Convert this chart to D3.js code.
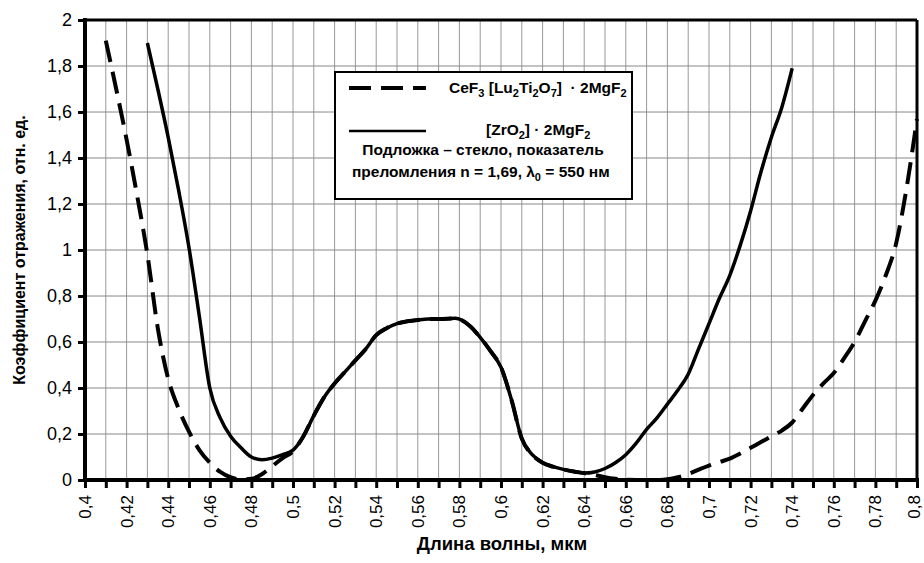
<!DOCTYPE html>
<html>
<head>
<meta charset="utf-8">
<script src="https://cdn.jsdelivr.net/npm/d3@7"></script>
<style>
  body { margin: 0; background: #fff; }
  text { font-family: Arial, "Liberation Sans", sans-serif; }
</style>
</head>
<body>
<div class="chart"></div>
<script>
var width = 924
var height = 563

// [ZrO2] . 2MgF2 (solid)
var waveZr = [0.43, 0.435, 0.44, 0.445, 0.45, 0.455, 0.46, 0.465, 0.47, 0.475, 0.48, 0.485, 0.49, 0.495,
    0.5, 0.505, 0.51, 0.515, 0.52, 0.525, 0.53, 0.535, 0.54, 0.545, 0.55, 0.555, 0.56, 0.565, 0.57, 0.578,
    0.585, 0.59, 0.595, 0.6, 0.605, 0.61, 0.615, 0.62, 0.625, 0.63, 0.635, 0.64, 0.645, 0.65, 0.655, 0.66,
    0.665, 0.67, 0.675, 0.68, 0.685, 0.69, 0.695, 0.7, 0.705, 0.71, 0.715, 0.72, 0.725, 0.73, 0.735, 0.74]
var reflZr = [1.90, 1.70, 1.49, 1.26, 1.01, 0.71, 0.40, 0.27, 0.19, 0.14, 0.10, 0.088, 0.095, 0.11,
    0.13, 0.19, 0.28, 0.36, 0.42, 0.47, 0.52, 0.57, 0.63, 0.66, 0.68, 0.69, 0.696, 0.70, 0.70, 0.703,
    0.67, 0.62, 0.56, 0.49, 0.35, 0.18, 0.11, 0.075, 0.058, 0.046, 0.037, 0.03, 0.035, 0.05, 0.075, 0.11,
    0.16, 0.22, 0.27, 0.33, 0.39, 0.46, 0.57, 0.68, 0.79, 0.89, 1.02, 1.17, 1.34, 1.49, 1.62, 1.79]

// CeF3 [Lu2Ti2O7] . 2MgF2 (dashed)
var waveCe = [0.41, 0.415, 0.42, 0.425, 0.43, 0.435, 0.44, 0.445, 0.45, 0.455, 0.46, 0.465, 0.47, 0.475,
    0.48, 0.485, 0.49, 0.495, 0.5, 0.505, 0.51, 0.515, 0.52, 0.525, 0.53, 0.535, 0.54, 0.545, 0.55, 0.555,
    0.56, 0.565, 0.57, 0.578, 0.585, 0.59, 0.595, 0.6, 0.605, 0.61, 0.615, 0.62, 0.625, 0.63, 0.635, 0.64,
    0.645, 0.65, 0.655, 0.66, 0.665, 0.67, 0.675, 0.68, 0.685, 0.69, 0.695, 0.7, 0.705, 0.71, 0.715, 0.72,
    0.725, 0.73, 0.735, 0.74, 0.745, 0.75, 0.755, 0.76, 0.765, 0.77, 0.775, 0.78, 0.785, 0.79, 0.795, 0.8]
var reflCe = [1.91, 1.70, 1.48, 1.24, 0.98, 0.66, 0.44, 0.31, 0.21, 0.13, 0.075, 0.035, 0.012, 0.003,
    0.005, 0.025, 0.06, 0.095, 0.125, 0.19, 0.28, 0.36, 0.42, 0.47, 0.52, 0.57, 0.63, 0.66, 0.68, 0.69,
    0.696, 0.70, 0.70, 0.703, 0.67, 0.62, 0.56, 0.49, 0.35, 0.18, 0.11, 0.075, 0.058, 0.046, 0.037, 0.03,
    0.022, 0.012, 0.005, 0.001, 0, 0, 0, 0.003, 0.012, 0.026, 0.045, 0.063, 0.078, 0.093, 0.115, 0.14,
    0.165, 0.19, 0.215, 0.25, 0.31, 0.37, 0.42, 0.465, 0.53, 0.60, 0.69, 0.78, 0.89, 1.03, 1.27, 1.57]

var xTicks = d3.range(0, 41).map(function (i) { return 0.4 + i * 0.01 })
var xLabels = d3.range(0, 21).map(function (i) { return 0.4 + i * 0.02 })
var yTicks = [0, 0.2, 0.4, 0.6, 0.8, 1, 1.2, 1.4, 1.6, 1.8, 2]

var fmt = function (v) { return String(+v.toFixed(2)).replace('.', ',') }

var svg = d3.select('.chart').append('svg')
    .attr('width', width)
    .attr('height', height)

var x = d3.scaleLinear().domain([0.4, 0.8]).range([85, 917])
var y = d3.scaleLinear().domain([0, 2]).range([480, 20])

// grid
svg.append('g').selectAll('line')
    .data(xTicks.slice(1, -1))
    .enter().append('line')
    .attr('x1', function (d) { return x(d) }).attr('x2', function (d) { return x(d) })
    .attr('y1', y(2)).attr('y2', y(0))
    .attr('stroke', '#999').attr('stroke-width', 1)

svg.append('g').selectAll('line')
    .data(yTicks.slice(1, -1))
    .enter().append('line')
    .attr('x1', x(0.4)).attr('x2', x(0.8))
    .attr('y1', function (d) { return y(d) }).attr('y2', function (d) { return y(d) })
    .attr('stroke', '#888').attr('stroke-width', 1)

// frame top / right
svg.append('line').attr('x1', x(0.4)).attr('x2', x(0.8)).attr('y1', y(2)).attr('y2', y(2))
    .attr('stroke', '#000').attr('stroke-width', 3)
svg.append('line').attr('x1', x(0.8)).attr('x2', x(0.8)).attr('y1', y(2)).attr('y2', y(0))
    .attr('stroke', '#000').attr('stroke-width', 3)

// axes
var xAxis = svg.append('g')
    .attr('transform', 'translate(0,' + y(0) + ')')
    .call(d3.axisBottom(x).tickValues(xTicks).tickSize(8).tickFormat(''))
xAxis.select('.domain').attr('stroke-width', 4).attr('d', 'M' + (x(0.4) - 2) + ',0H' + (x(0.8) + 2))
xAxis.selectAll('.tick line').attr('stroke-width', 3)

xAxis.selectAll('.lbl')
    .data(xLabels)
    .enter().append('text')
    .attr('class', 'lbl')
    .attr('transform', function (d) { return 'translate(' + Math.min(x(d), 914) + ',15) rotate(-90)' })
    .attr('dy', '0.35em')
    .attr('text-anchor', 'end')
    .attr('font-size', 17)
    .attr('fill', '#000')
    .text(fmt)

var yAxis = svg.append('g')
    .attr('transform', 'translate(' + x(0.4) + ',0)')
    .call(d3.axisLeft(y).tickValues(yTicks).tickSize(7).tickPadding(6).tickFormat(fmt))
yAxis.select('.domain').attr('stroke-width', 4).attr('d', 'M0,' + (y(2) - 2) + 'V' + (y(0) + 2))
yAxis.selectAll('.tick line').attr('stroke-width', 3)
yAxis.selectAll('.tick text').attr('font-size', 18).attr('font-family', 'Arial, "Liberation Sans", sans-serif')

// curves
var line = d3.line()
    .x(function (d) { return x(d[0]) })
    .y(function (d) { return y(d[1]) })
    .curve(d3.curveMonotoneX)

svg.append('path')
    .datum(d3.zip(waveCe, reflCe))
    .attr('d', line)
    .attr('fill', 'none')
    .attr('stroke', '#000')
    .attr('stroke-width', 4)
    .attr('stroke-dasharray', '22,10')

svg.append('path')
    .datum(d3.zip(waveZr, reflZr))
    .attr('d', line)
    .attr('fill', 'none')
    .attr('stroke', '#000')
    .attr('stroke-width', 3.5)

// legend
var fs = 15.5
var leg = svg.append('g')
leg.append('rect')
    .attr('x', 335).attr('y', 72).attr('width', 297).attr('height', 127)
    .attr('fill', '#fff').attr('stroke', '#000').attr('stroke-width', 2)
leg.append('line')
    .attr('x1', 349).attr('x2', 426).attr('y1', 88).attr('y2', 88)
    .attr('stroke', '#000').attr('stroke-width', 4).attr('stroke-dasharray', '22,10')
leg.append('line')
    .attr('x1', 349).attr('x2', 426).attr('y1', 131).attr('y2', 131)
    .attr('stroke', '#000').attr('stroke-width', 2.5)

// parts: [text, isSubscript]
function richText(g, xPos, yPos, parts) {
    var t = g.append('text')
        .attr('x', xPos).attr('y', yPos)
        .attr('font-size', fs).attr('font-weight', 'bold')
    var shift = 0
    parts.forEach(function (p) {
        var target = p[1] ? 4 : 0
        t.append('tspan')
            .attr('font-size', p[1] ? 11 : fs)
            .attr('dy', target - shift)
            .text(p[0])
        shift = target
    })
    return t
}

richText(leg, 449, 93, [['CeF'], ['3', 1], [' [Lu'], ['2', 1], ['Ti'], ['2', 1], ['O'], ['7', 1], ['] \u00a0· 2MgF'], ['2', 1]])
richText(leg, 486, 135, [['[ZrO'], ['2', 1], ['] · 2MgF'], ['2', 1]])
leg.append('text')
    .attr('x', 483).attr('y', 155)
    .attr('text-anchor', 'middle')
    .attr('font-size', fs).attr('font-weight', 'bold')
    .text('Подложка – стекло, показатель')
richText(leg, 352, 177, [['преломления n = 1,69, λ'], ['0', 1], [' = 550 нм']])

// axis titles
svg.append('text')
    .attr('x', 502).attr('y', 550)
    .attr('text-anchor', 'middle')
    .attr('font-size', 18.5).attr('font-weight', 'bold')
    .text('Длина волны, мкм')

svg.append('text')
    .attr('transform', 'translate(25,250) rotate(-90)')
    .attr('text-anchor', 'middle')
    .attr('font-size', 16).attr('font-weight', 'bold')
    .text('Коэффициент отражения, отн. ед.')
</script>
</body>
</html>
